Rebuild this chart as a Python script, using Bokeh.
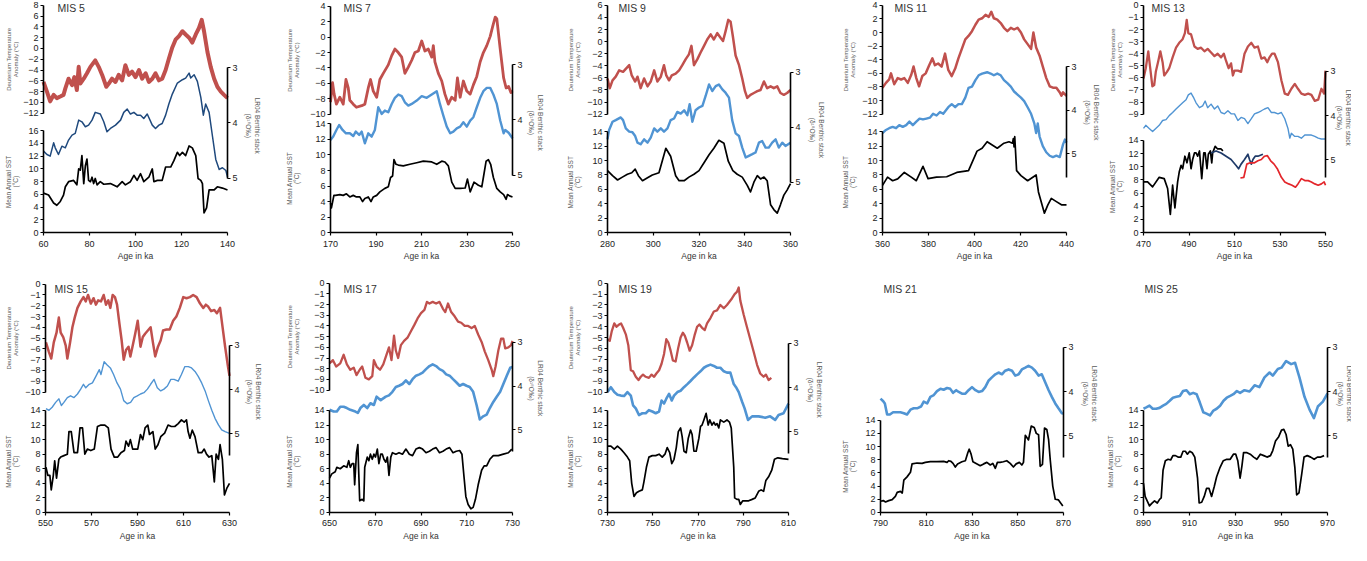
import math
from bokeh.plotting import figure
from bokeh.models import Range1d, LinearAxis, FixedTicker, Label
from bokeh.layouts import row, column
from bokeh.embed import file_html
from bokeh.resources import INLINE

# ------------------------------------------------------------------ data
# MIS 5
mis5_deut_age = [60.0,61.5,62.9,64.4,65.8,67.3,68.7,69.5,70.9,72.4,73.4,74.5,75.3,76.0,77.5,78.9,80.4,82.5,84.0,85.5,87.3,88.4,89.8,91.3,92.7,94.2,95.6,97.1,98.5,100.0,101.5,102.9,104.4,105.8,107.3,108.7,110.2,111.6,113.1,114.5,116.0,117.5,118.9,120.4,121.8,123.3,124.7,126.2,127.6,128.8,129.8,131.3,132.7,134.2,135.6,137.1,138.5,140.0]
mis5_deut = [-6.2,-8.0,-9.8,-8.6,-9.2,-8.9,-8.6,-7.4,-5.6,-6.8,-5.3,-7.7,-3.4,-6.5,-5.6,-4.6,-3.4,-2.2,-3.4,-4.9,-7.1,-6.5,-5.6,-6.2,-4.9,-5.9,-3.1,-4.9,-4.3,-5.3,-4.0,-5.6,-4.6,-6.2,-5.6,-4.6,-5.9,-5.6,-4.0,-1.9,0.2,1.7,2.3,3.2,2.6,2.0,1.1,2.6,3.8,5.3,3.2,-0.7,-3.4,-5.6,-7.1,-8.0,-8.6,-9.2]
mis5_ben_age = [60.0,61.5,62.9,64.4,65.1,66.5,68.0,69.5,70.9,72.4,73.8,75.3,76.7,78.2,79.6,81.1,82.5,84.7,86.2,87.6,89.1,91.3,93.5,94.9,96.4,97.8,99.3,100.7,102.2,103.6,105.1,107.3,108.7,110.2,111.6,113.1,114.5,116.0,118.2,120.4,121.8,123.3,124.0,125.5,126.9,128.4,129.5,130.5,132.0,133.5,134.9,136.4,137.8,139.3,140.0]
mis5_ben = [4.51,4.57,4.60,4.36,4.45,4.57,4.42,4.45,4.31,4.22,4.19,3.95,3.98,4.07,4.04,3.95,3.81,3.84,3.98,4.16,4.10,4.04,3.95,3.81,3.75,3.84,3.81,3.86,3.86,3.92,3.84,4.04,4.10,4.04,4.01,3.86,3.66,3.48,3.28,3.22,3.19,3.10,3.19,3.13,3.25,3.54,3.86,3.66,3.81,4.25,4.66,4.84,4.81,4.86,4.98]
mis5_sst_age = [60.0,62.2,64.4,65.8,67.3,68.7,69.5,70.9,73.1,74.5,75.3,76.0,76.7,77.5,78.2,78.9,79.6,80.4,81.1,81.8,82.5,83.3,84.7,86.2,89.1,92.0,94.2,95.6,97.8,99.3,100.7,102.2,103.6,105.8,107.3,108.0,109.5,111.6,113.1,115.3,116.7,118.2,119.2,120.4,121.8,123.3,124.7,126.2,127.2,128.4,129.1,129.8,130.9,132.0,134.2,135.6,137.8,140.0]
mis5_sst = [6.2,5.9,4.65,4.3,4.9,5.9,7.2,8.0,8.2,7.5,10.0,9.8,12.1,7.7,10.5,11.55,8.2,8.0,8.7,7.7,8.5,7.5,8.0,7.6,7.7,7.2,8.0,7.5,8.0,9.0,8.2,9.25,8.0,8.7,10.0,8.0,8.2,8.2,10.3,10.3,11.3,12.6,12.1,12.6,12.1,13.6,13.3,12.1,8.5,8.2,7.7,3.1,3.9,6.7,6.7,7.2,7.0,6.7]

# MIS 7
mis7_deut_age = [170.0,170.9,171.6,172.6,174.1,175.6,176.8,177.8,178.5,180.0,181.4,183.7,185.1,186.6,187.6,188.8,190.3,191.7,193.2,195.4,196.9,198.3,199.8,201.3,202.7,204.2,205.7,207.1,208.6,210.1,211.5,213.0,214.5,215.2,215.9,217.4,218.9,220.3,221.8,223.3,224.8,225.8,227.0,228.4,229.9,231.4,232.8,234.3,235.8,237.2,238.7,240.2,241.3,242.4,243.1,244.6,246.1,247.2,248.3,249.3,250.0]
mis7_deut = [-8.45,-5.9,-7.4,-8.7,-7.8,-8.7,-5.5,-6.6,-8.2,-8.7,-9.1,-8.9,-8.7,-6.6,-5.5,-7.0,-7.8,-5.5,-4.7,-3.6,-2.4,-1.55,-2.0,-2.6,-4.7,-3.9,-3.0,-2.0,-1.8,-0.5,-1.8,-1.55,-2.6,-1.1,-3.2,-4.7,-5.7,-7.4,-8.7,-7.8,-8.2,-5.3,-7.8,-5.7,-7.0,-7.4,-6.2,-5.1,-3.2,-2.0,-1.1,0.1,1.4,2.6,2.4,-1.55,-5.3,-6.6,-6.4,-7.2,-7.0]
mis7_ben_age = [170.0,171.2,172.6,173.8,175.3,176.8,178.5,180.0,181.1,182.6,183.7,185.1,186.6,188.1,189.5,191.0,192.5,193.9,195.4,196.9,198.3,199.8,201.3,202.7,204.2,205.7,207.9,210.1,212.3,214.5,216.7,218.1,219.6,221.1,222.6,224.0,225.5,227.0,228.4,229.9,231.4,232.8,234.3,235.8,237.2,238.7,240.2,241.6,243.1,244.6,246.1,246.8,248.3,250.0]
mis7_ben = [4.36,4.30,4.18,4.09,4.18,4.24,4.24,4.29,4.21,4.27,4.21,4.42,4.24,4.30,4.18,3.77,3.89,3.83,3.86,3.71,3.60,3.54,3.57,3.68,3.74,3.71,3.65,3.57,3.60,3.54,3.48,3.71,3.92,4.12,4.24,4.21,4.15,4.12,4.04,4.12,4.01,3.95,3.77,3.60,3.48,3.42,3.42,3.54,3.71,4.01,4.24,4.18,4.23,4.33]
mis7_sst_age = [170.0,170.4,171.5,172.2,174.1,175.6,177.0,178.5,180.0,181.4,182.9,184.1,185.1,186.6,187.8,188.8,190.3,191.7,193.9,195.4,196.4,197.3,197.9,198.8,199.8,202.0,204.9,207.9,210.8,214.5,216.7,218.9,220.3,221.8,223.3,224.8,227.0,229.2,230.2,231.4,233.1,235.0,236.5,237.2,238.4,239.4,240.4,241.6,243.1,244.6,246.1,247.2,247.8,249.0,250.0]
mis7_sst = [3.8,3.2,4.8,4.8,4.9,4.8,5.0,4.6,4.8,4.6,4.6,4.0,4.4,4.6,4.0,4.6,4.8,5.25,5.7,5.9,7.1,7.3,9.4,8.8,8.7,8.6,8.8,9.0,9.2,9.1,8.8,9.2,9.1,8.6,6.5,5.7,5.7,5.75,6.9,5.25,6.5,6.1,5.9,7.1,9.2,9.4,8.8,7.1,5.7,5.25,4.9,4.3,4.9,4.7,4.6]

# MIS 9
mis9_deut_age = [280.0,281.0,282.2,283.6,285.1,286.8,288.0,289.5,290.6,292.1,293.1,294.5,296.0,297.5,298.9,300.4,301.8,303.3,304.7,305.7,306.9,308.1,309.8,311.3,312.7,314.2,315.6,316.7,317.8,319.3,320.7,322.2,323.6,325.1,326.5,328.0,329.5,330.5,331.6,332.8,333.8,334.8,336.0,337.5,338.9,340.1,341.1,342.5,344.0,345.5,346.9,348.4,349.8,351.3,352.7,354.2,355.6,357.1,358.5,360.0]
mis9_deut = [-6.1,-7.7,-6.4,-5.8,-4.75,-5.0,-4.5,-3.9,-5.6,-6.6,-5.8,-7.7,-6.1,-7.4,-6.6,-4.75,-6.6,-5.8,-3.9,-5.6,-6.4,-5.6,-5.3,-4.75,-3.9,-2.9,-2.1,-0.7,-3.9,-2.9,-1.8,-0.7,0.35,1.2,0.35,1.4,0.6,0.1,1.7,3.6,3.3,0.9,-2.3,-3.9,-6.1,-8.2,-9.3,-8.8,-8.5,-8.2,-8.0,-6.6,-7.7,-7.4,-7.7,-7.4,-8.5,-8.8,-8.5,-8.0]
mis9_ben_age = [280.0,280.7,282.2,283.6,285.8,286.8,288.0,289.5,290.9,292.1,293.1,294.5,296.0,297.5,298.9,300.4,301.8,303.3,304.7,306.2,307.6,309.1,310.5,312.0,313.5,314.9,315.9,317.1,318.5,320.0,321.5,322.9,324.4,325.8,327.3,328.7,330.2,331.6,333.1,334.5,336.0,337.5,338.9,340.4,341.8,343.3,344.7,346.2,347.6,349.1,350.5,352.0,353.5,354.9,356.4,357.8,360.0]
mis9_ben = [4.22,4.05,3.90,3.87,3.82,3.87,4.02,4.08,4.09,4.16,4.28,4.31,4.22,4.28,4.19,4.02,4.08,4.02,4.08,4.02,3.87,3.84,3.72,3.75,3.69,3.78,3.58,3.90,3.69,3.64,3.61,3.43,3.22,3.34,3.25,3.22,3.31,3.37,3.46,3.87,4.11,4.16,4.37,4.55,4.52,4.49,4.46,4.28,4.25,4.37,4.37,4.28,4.22,4.37,4.28,4.34,4.28]
mis9_sst_age = [280.0,282.2,284.4,286.5,288.7,290.6,292.1,293.5,295.3,297.5,299.6,302.5,305.5,307.6,309.8,311.3,313.5,315.6,317.8,320.0,322.2,324.4,326.5,328.7,330.9,332.8,334.8,336.7,338.9,341.1,342.5,344.0,345.5,346.9,348.4,349.8,351.3,352.7,354.2,355.6,357.1,358.5,360.0]
mis9_sst = [8.6,7.9,7.3,7.7,8.1,8.3,8.8,7.9,7.2,7.6,8.0,8.3,11.7,10.6,7.9,7.2,7.2,7.7,8.1,8.6,9.7,10.8,11.7,12.8,12.4,9.9,8.6,8.1,7.7,6.55,5.65,7.0,7.9,7.45,7.7,7.2,3.86,3.2,2.7,3.86,5.2,5.9,6.8]

# MIS 11
mis11_deut_age = [360.0,361.5,362.9,363.7,365.1,366.6,368.1,369.5,371.0,372.5,373.5,374.7,375.9,377.3,378.8,380.3,381.7,382.8,384.2,385.7,387.2,388.6,390.1,391.6,393.0,394.5,396.0,397.4,398.9,400.4,401.8,403.3,404.8,406.2,407.3,408.4,409.9,411.4,412.8,414.3,415.8,417.2,418.7,420.2,421.6,423.1,424.6,425.6,426.8,428.3,429.7,431.2,432.7,434.1,435.6,437.1,437.8,438.5,440.0]
mis11_deut = [-8.1,-7.4,-6.9,-6.0,-7.6,-6.7,-6.9,-6.7,-7.4,-6.2,-5.0,-6.7,-7.9,-6.4,-6.0,-4.8,-3.8,-4.8,-4.55,-5.0,-3.1,-5.5,-6.4,-5.3,-3.8,-2.4,-1.0,-0.5,0.2,1.15,1.9,2.1,2.6,2.3,3.05,2.1,1.9,1.4,0.7,0.2,0.7,0.45,0.7,0.0,-1.0,-1.7,-2.4,0.0,-2.2,-3.4,-5.0,-6.7,-7.9,-8.1,-8.1,-8.8,-9.3,-8.8,-9.3]
mis11_ben_age = [360.0,361.5,362.9,364.4,365.9,367.3,368.8,370.3,371.7,373.2,374.7,376.1,377.6,379.1,380.6,382.0,383.5,385.0,386.4,388.6,390.1,391.6,393.0,394.5,396.0,397.4,398.9,400.4,401.8,403.3,405.5,407.0,408.4,409.9,411.4,412.8,414.3,415.8,417.2,418.7,420.2,421.6,423.1,424.6,426.0,426.8,427.5,428.3,429.7,431.2,432.7,434.1,435.6,437.1,438.5,439.3,440.0]
mis11_ben = [4.52,4.45,4.41,4.38,4.41,4.34,4.38,4.34,4.26,4.34,4.26,4.19,4.21,4.19,4.17,4.08,4.12,4.04,4.08,3.93,3.86,3.93,3.86,3.86,3.71,3.49,3.46,3.31,3.20,3.16,3.13,3.16,3.20,3.16,3.20,3.31,3.38,3.46,3.57,3.64,3.71,3.79,3.93,4.08,4.30,4.52,4.30,4.60,4.82,4.96,5.04,5.07,5.04,5.07,4.78,4.67,4.74]
mis11_sst_age = [360.0,362.2,364.4,366.6,369.5,372.5,374.7,377.6,379.8,383.5,387.9,392.3,397.4,401.1,403.3,405.5,409.9,412.8,415.0,416.5,416.9,417.2,417.5,418.3,420.2,423.1,426.8,427.8,430.4,431.9,433.4,435.6,437.8,440.0]
mis11_sst = [6.55,7.7,7.2,7.45,8.35,7.7,7.2,9.2,7.5,7.7,7.75,8.35,8.6,11.3,11.7,12.6,11.7,12.4,12.6,12.4,13.05,11.9,13.3,8.6,7.9,7.2,8.0,5.65,2.7,3.86,4.75,4.3,3.86,3.86]

# MIS 13
mis13_deut_age = [470.0,471.0,472.1,472.9,473.9,474.7,475.4,476.5,477.4,478.4,479.1,480.3,481.3,482.8,484.3,485.7,487.2,488.2,489.0,489.7,490.9,492.4,493.8,495.3,496.8,498.2,499.7,501.2,502.6,504.1,505.3,506.3,507.4,508.5,509.3,510.0,511.5,512.9,514.4,515.9,517.4,518.8,520.3,521.8,523.2,524.4,525.4,526.5,527.6,529.1,530.6,532.1,533.5,535.0,536.5,537.9,539.4,540.9,542.4,543.8,545.3,546.8,548.2,549.4,550.0]
mis13_deut = [-6.05,-5.2,-3.8,-5.1,-6.7,-6.6,-5.5,-4.6,-3.8,-4.7,-5.8,-5.5,-5.2,-4.3,-3.5,-3.1,-2.8,-2.3,-1.2,-2.3,-2.4,-3.4,-3.6,-3.5,-3.8,-3.6,-3.9,-4.2,-4.0,-4.3,-4.0,-4.6,-5.2,-4.8,-5.8,-5.4,-5.4,-5.5,-4.0,-3.4,-3.1,-3.5,-3.4,-4.4,-4.3,-4.7,-4.3,-4.0,-4.0,-4.7,-6.2,-7.3,-7.4,-6.9,-6.5,-6.9,-7.3,-7.4,-7.3,-7.4,-7.9,-7.8,-6.9,-7.3,-5.4]
mis13_ben_age = [470.0,471.0,472.5,474.0,475.4,476.9,478.4,479.9,481.3,482.8,484.3,485.7,487.2,488.7,489.7,490.9,492.1,493.1,494.6,496.0,497.1,498.2,499.7,501.2,502.6,504.1,505.6,507.1,508.5,510.0,511.5,512.9,514.4,515.9,517.4,518.8,520.3,521.8,523.2,524.7,526.2,527.6,529.1,530.6,532.1,533.5,534.3,535.0,536.5,537.9,539.4,540.9,542.4,543.8,545.3,546.8,548.2,550.0]
mis13_ben = [4.29,4.22,4.29,4.36,4.29,4.22,4.11,4.09,4.0,3.93,3.85,3.78,3.71,3.64,3.53,3.49,3.60,3.71,3.82,3.78,3.67,3.82,3.74,3.85,3.78,3.93,3.96,3.89,3.96,3.96,4.11,4.04,4.07,4.18,4.07,3.96,3.93,3.89,3.85,3.82,3.93,3.93,3.96,3.93,4.07,4.29,4.51,4.40,4.47,4.47,4.51,4.44,4.44,4.44,4.47,4.51,4.53,4.53]
mis13_sst_a_age = [470.0,471.8,474.0,476.9,479.1,480.6,481.8,482.8,483.8,485.0,485.7,486.5,487.2,488.2,489.1,490.1,490.9,491.6,492.4,493.1,493.8,494.6,495.6,496.5,497.1,497.9,498.5,499.4,500.0,500.4,501.5,502.6,504.1,504.9]
mis13_sst_a = [7.7,7.7,6.95,8.4,8.2,6.7,2.76,7.2,3.75,7.7,9.2,10.2,9.7,11.6,10.6,12.1,9.7,11.1,12.1,12.1,11.6,12.4,8.2,12.1,12.1,9.7,11.9,12.4,10.6,12.1,13.1,12.7,12.7,12.4]
mis13_sst_b_age = [499.7,501.9,504.1,506.3,508.5,510.7,511.8,512.9,514.4,515.9,516.6,517.4,518.1,519.1,520.3,522.5]
mis13_sst_b = [12.1,12.4,12.1,11.6,11.1,10.2,9.7,10.4,11.1,11.9,11.1,10.4,11.1,11.6,11.6,11.9]
mis13_sst_c_age = [512.6,514.1,515.4,516.9,518.8,520.3,521.8,523.2,524.4,525.9,527.4,528.8,530.6,532.1,533.8,535.3,536.8,537.9,539.4,540.9,542.4,543.8,545.3,546.8,548.2,549.4,550.0]
mis13_sst_c = [8.3,8.4,10.4,10.6,10.6,10.9,11.1,11.6,11.7,10.9,10.4,9.7,8.4,7.7,7.4,7.2,6.9,7.4,8.2,7.9,7.9,7.7,7.4,7.2,7.4,7.7,7.2]

# MIS 15
mis15_deut_age = [550.2,551.5,552.5,553.6,554.8,555.8,556.6,557.7,558.8,559.5,560.7,561.7,562.7,563.9,565.3,566.5,567.5,568.5,569.7,570.9,571.9,572.9,574.1,575.3,576.3,577.3,578.2,579.2,580.2,581.1,582.1,583.1,584.0,585.0,586.1,586.9,587.9,589.0,590.1,591.3,592.3,593.3,594.5,595.7,596.7,597.7,598.9,600.1,601.1,602.6,604.0,605.5,606.9,608.4,609.9,611.3,612.8,614.2,615.7,617.2,618.6,619.7,620.8,622.0,623.4,624.5,625.9,627.0,628.1,629.3,630.0]
mis15_deut = [-5.4,-6.3,-6.9,-5.4,-4.5,-3.1,-4.5,-4.9,-5.7,-6.9,-5.4,-4.0,-3.1,-2.2,-1.6,-1.2,-1.6,-1.0,-1.8,-1.3,-1.9,-1.5,-1.6,-1.0,-1.9,-1.5,-2.2,-1.0,-1.2,-1.9,-3.6,-5.2,-7.0,-6.1,-5.8,-6.7,-5.7,-4.6,-3.4,-5.8,-4.9,-4.6,-4.3,-4.0,-5.4,-6.7,-5.8,-5.2,-4.3,-4.2,-4.2,-3.4,-3.0,-2.2,-1.2,-1.3,-1.2,-1.0,-1.2,-1.8,-2.2,-1.9,-2.1,-2.5,-2.4,-2.7,-2.2,-4.0,-5.8,-7.6,-8.5]
mis15_ben_age = [550.2,551.5,552.9,554.4,555.8,556.9,558.0,559.5,560.9,562.4,563.9,565.3,566.5,567.5,569.0,570.4,571.9,573.4,574.1,575.5,576.7,578.2,579.6,581.1,582.6,584.0,585.5,587.0,588.4,589.9,591.3,592.8,594.3,595.7,597.2,598.6,600.1,601.5,603.0,604.5,605.9,607.7,609.1,610.6,612.1,613.5,615.0,616.4,617.9,619.4,620.8,622.3,623.7,625.2,626.6,628.1,630.0]
mis15_ben = [4.43,4.47,4.40,4.29,4.21,4.36,4.29,4.18,4.14,4.18,4.10,3.99,3.88,3.96,3.88,3.85,3.70,3.55,3.66,3.37,3.44,3.51,3.66,3.85,3.99,4.25,4.32,4.29,4.18,4.14,4.10,4.07,3.99,3.88,3.77,3.96,4.03,3.99,3.92,3.77,3.77,3.81,3.66,3.48,3.48,3.51,3.59,3.70,3.85,4.03,4.25,4.47,4.65,4.80,4.91,4.95,4.99]
mis15_sst_age = [550.2,551.0,551.9,552.5,553.4,554.0,554.8,555.8,556.6,558.0,559.5,560.2,561.2,562.4,563.9,565.0,566.1,567.1,568.2,569.7,571.2,572.6,574.1,575.8,577.3,578.5,579.9,581.4,582.8,584.3,585.0,586.1,586.9,587.9,590.1,591.3,592.3,593.3,594.5,595.2,596.7,597.7,598.9,600.1,601.8,603.3,604.7,606.2,607.7,609.1,610.3,611.3,612.0,612.8,613.8,615.0,616.4,617.9,619.0,620.0,621.1,622.3,623.4,624.2,625.2,625.9,626.9,627.8,628.8,630.0]
mis15_sst = [6.2,5.1,5.1,3.1,5.1,7.1,4.7,7.3,7.6,7.8,8.0,11.1,11.1,8.2,8.2,11.6,11.6,8.0,8.7,8.5,8.7,11.8,12.0,12.0,11.6,8.7,7.6,7.6,8.2,8.5,9.8,9.1,10.0,8.7,8.7,10.7,10.0,11.6,12.0,10.7,11.1,8.7,9.3,10.4,10.9,12.0,11.8,11.8,12.2,12.7,12.4,12.7,11.1,10.2,11.3,10.4,8.2,8.2,8.7,8.0,7.6,7.8,4.2,8.0,7.3,9.3,7.3,2.4,3.3,4.0]

# MIS 17
mis17_deut_age = [650.0,651.5,652.9,654.7,656.2,657.6,659.1,660.6,661.8,663.2,664.3,665.7,667.2,668.7,669.4,670.6,672.1,673.5,674.6,676.0,677.1,678.2,679.0,680.0,681.2,682.6,684.1,685.6,687.1,688.5,690.0,691.5,692.6,693.7,695.1,696.6,698.1,699.6,700.6,701.8,703.2,704.7,706.2,707.6,709.1,710.6,712.1,713.5,715.0,716.5,717.9,719.4,720.9,721.6,722.6,723.8,725.0,726.0,726.8,728.2,729.4,730.0]
mis17_deut = [-7.5,-7.2,-7.8,-7.5,-6.7,-7.6,-8.1,-7.9,-8.6,-8.1,-7.8,-8.85,-9.0,-8.7,-7.2,-7.8,-8.1,-7.6,-6.9,-6.0,-7.2,-4.9,-6.3,-7.0,-5.8,-5.4,-5.1,-4.5,-3.9,-3.3,-2.8,-2.5,-1.75,-1.9,-1.75,-1.9,-1.75,-2.4,-2.7,-1.9,-2.7,-3.1,-3.6,-3.7,-4.0,-4.0,-4.2,-4.0,-4.8,-5.5,-6.4,-7.2,-8.1,-8.7,-7.8,-6.3,-5.2,-5.2,-6.1,-6.0,-5.8,-5.4]
mis17_ben_age = [650.0,651.8,653.2,654.7,656.2,657.6,659.1,661.3,662.4,663.5,665.0,666.5,667.9,669.4,670.6,672.4,674.6,676.0,677.5,679.0,680.4,681.9,683.4,684.9,686.3,687.8,689.3,690.7,692.2,693.7,695.1,696.6,698.1,699.6,701.0,702.5,704.0,705.4,706.9,708.4,709.9,711.3,712.8,714.3,715.7,717.2,718.7,720.1,721.6,723.1,724.6,726.0,727.5,729.0,730.0]
mis17_ben = [4.54,4.58,4.58,4.47,4.47,4.50,4.54,4.58,4.61,4.50,4.43,4.50,4.39,4.43,4.24,4.32,4.24,4.21,4.13,4.02,3.99,3.95,3.87,3.95,3.84,3.76,3.73,3.69,3.61,3.54,3.50,3.54,3.61,3.65,3.73,3.76,3.84,3.91,3.99,3.95,3.99,4.02,4.13,4.43,4.76,4.69,4.65,4.50,4.36,4.24,4.13,3.95,3.76,3.58,3.56]
mis17_sst_age = [650.0,651.0,652.5,653.2,654.7,656.2,657.6,658.4,659.1,659.9,660.6,661.0,661.8,662.4,662.8,663.2,664.3,665.0,665.4,666.5,667.2,667.9,668.7,669.4,670.1,670.9,671.6,672.4,673.1,673.8,674.6,675.3,676.0,676.8,677.5,679.0,680.4,681.9,683.4,684.9,686.3,687.8,689.3,690.7,692.2,693.7,695.1,696.6,698.1,699.6,701.0,702.5,704.0,705.4,706.9,707.9,708.8,709.6,710.6,711.8,712.8,713.8,715.0,716.5,717.6,718.7,720.1,721.6,723.8,726.0,728.2,729.7]
mis17_sst = [4.7,5.3,5.6,6.2,6.0,6.4,6.2,7.1,6.2,6.7,6.7,3.8,8.2,9.3,5.3,1.6,1.8,1.6,6.2,7.6,7.1,8.0,7.3,8.0,7.6,8.7,6.7,8.0,8.0,7.3,6.9,7.6,5.1,7.6,8.2,8.0,8.2,8.0,8.7,8.0,7.8,8.7,8.9,8.7,8.2,8.4,8.7,8.9,8.2,8.4,8.7,8.9,8.2,8.4,8.5,8.0,4.9,2.2,1.1,0.5,0.7,1.8,3.8,5.8,6.4,6.4,7.3,7.8,7.8,8.0,8.2,8.7]

# MIS 19
mis19_deut_age = [730.0,731.0,731.9,733.0,734.0,735.1,736.0,736.9,738.1,739.2,740.3,741.3,742.5,743.7,744.7,745.7,746.9,748.3,749.5,750.6,751.6,752.8,753.9,755.0,756.0,756.9,757.9,758.9,760.1,761.3,762.3,763.3,764.2,765.2,766.3,767.4,768.6,769.6,770.6,771.8,773.0,774.0,775.5,777.0,778.4,779.9,781.4,782.8,783.9,785.0,786.2,787.2,788.0,788.7,790.2,791.6,793.1,794.6,796.1,797.5,799.0,800.0,801.2,802.4]
mis19_deut = [-5.15,-5.3,-4.4,-3.7,-4.0,-3.8,-3.7,-4.1,-4.7,-5.7,-8.0,-8.1,-8.6,-8.9,-8.6,-8.4,-8.6,-8.7,-8.4,-8.6,-8.3,-8.0,-7.4,-6.5,-5.15,-5.45,-6.2,-7.1,-7.2,-5.9,-5.0,-4.55,-4.85,-5.45,-6.2,-5.7,-4.7,-4.0,-3.8,-4.1,-4.3,-3.7,-3.2,-2.6,-2.5,-2.0,-2.3,-2.0,-1.7,-1.4,-1.0,-0.8,-0.4,-1.6,-2.9,-4.0,-5.15,-6.3,-7.5,-8.3,-8.6,-8.4,-8.9,-8.7]
mis19_ben_age = [730.0,731.5,733.0,734.4,735.9,737.3,738.8,740.3,741.3,742.5,743.9,745.4,746.9,748.3,749.8,751.3,752.8,753.9,755.0,756.0,757.2,758.4,759.4,760.9,762.3,763.8,765.3,766.7,768.2,769.6,771.1,772.6,774.0,775.5,777.0,778.4,779.9,781.4,782.8,784.3,785.8,786.8,788.0,789.5,790.6,792.1,793.9,796.8,799.7,801.9,804.1,805.6,807.8,810.0]
mis19_ben = [4.10,3.99,4.10,4.16,4.18,4.19,4.10,4.18,4.40,4.47,4.62,4.58,4.58,4.51,4.54,4.58,4.54,4.29,4.36,4.25,4.14,4.29,4.18,4.10,4.07,3.99,3.92,3.85,3.77,3.70,3.63,3.55,3.51,3.48,3.51,3.55,3.55,3.63,3.66,3.66,3.92,3.99,4.10,4.32,4.47,4.73,4.65,4.65,4.68,4.65,4.73,4.62,4.58,4.36]
mis19_sst_age = [730.0,731.5,733.0,734.4,735.9,737.3,738.8,739.8,740.7,741.7,742.8,743.9,745.4,746.1,747.2,748.3,749.8,751.3,752.8,754.2,755.4,756.4,757.5,758.4,759.4,760.4,761.3,762.3,763.0,763.8,764.8,765.7,766.7,767.4,768.2,769.2,770.4,771.1,771.8,772.6,773.6,774.5,775.2,776.2,777.0,777.7,778.4,779.2,779.9,781.4,782.8,783.9,784.7,785.8,786.2,787.2,788.0,788.7,789.8,790.9,792.4,793.9,795.3,796.8,797.9,799.0,800.0,801.2,802.6,803.8,805.3,807.3,810.0]
mis19_sst = [9.1,9.1,8.7,9.1,8.7,8.2,7.6,7.1,4.0,2.2,2.7,2.9,3.1,4.2,6.2,7.6,7.8,7.8,8.0,7.6,8.0,8.9,8.2,6.7,7.3,8.9,11.1,11.6,10.4,8.4,8.2,10.2,11.3,10.7,8.4,8.4,10.2,11.8,12.0,12.7,13.6,12.0,12.7,12.0,12.4,12.0,12.2,11.6,12.7,12.4,12.7,12.4,11.6,6.2,2.0,1.8,1.8,1.1,1.6,1.6,1.6,1.8,2.0,2.9,3.1,2.9,4.4,4.9,5.8,7.3,7.5,7.4,7.3]

# MIS 21
mis21_ben_age = [790.0,791.2,791.9,792.9,794.1,795.5,797.0,798.7,800.2,801.6,803.1,804.5,806.0,807.7,808.9,810.4,811.8,813.3,814.7,816.2,817.6,819.1,820.5,821.7,823.1,824.2,825.6,827.1,828.5,830.0,831.5,832.9,834.4,835.8,837.3,838.7,840.2,841.6,843.1,844.5,846.0,847.5,848.9,850.4,851.8,853.3,854.7,856.2,857.6,859.1,860.5,862.0,863.5,864.9,866.4,867.8,869.3,870.0]
mis21_ben = [4.16,4.22,4.27,4.52,4.52,4.47,4.47,4.47,4.49,4.52,4.41,4.38,4.38,4.34,4.23,4.27,4.12,4.08,3.99,3.94,3.96,3.92,3.94,4.03,3.97,4.01,4.05,4.05,3.97,3.90,3.97,4.01,3.99,3.90,3.75,3.68,3.61,3.57,3.61,3.53,3.50,3.53,3.64,3.61,3.50,3.46,3.42,3.46,3.53,3.64,3.61,3.79,3.97,4.12,4.27,4.38,4.49,4.50]
mis21_sst_age = [790.0,791.2,792.2,793.6,795.1,796.5,797.3,798.7,799.5,800.2,801.6,803.1,803.8,806.0,808.2,809.6,811.8,814.7,817.6,819.1,819.8,820.8,821.7,822.7,823.7,825.6,827.1,828.2,828.8,829.6,830.4,832.2,833.6,835.1,836.5,838.0,839.1,840.2,841.1,842.3,843.7,845.2,846.7,848.1,849.3,850.7,851.8,852.5,853.3,854.7,855.9,857.2,858.1,859.1,859.8,860.8,861.7,862.7,863.5,864.2,865.3,866.4,867.8,869.7]
mis21_sst = [1.7,1.8,1.6,1.8,1.95,2.45,3.05,3.2,2.95,4.9,5.4,6.1,7.37,7.5,7.45,7.6,7.7,7.7,7.75,7.6,7.85,7.75,7.45,6.9,7.37,7.7,7.85,9.1,9.6,8.85,7.7,7.37,7.1,7.37,7.6,7.2,7.45,6.7,7.6,7.6,7.7,7.85,7.45,6.9,7.37,7.6,7.2,7.6,11.7,11.0,13.1,12.9,12.0,11.8,7.0,7.3,12.8,12.6,11.0,8.0,4.0,2.0,1.9,1.0]

# MIS 25
mis25_ben_age = [890.0,891.2,892.6,894.0,895.5,897.0,898.5,899.9,901.4,902.8,904.3,905.8,907.2,908.7,910.1,911.6,913.1,914.5,916.0,917.4,918.9,920.4,921.8,923.3,924.8,926.2,927.7,929.1,930.6,932.0,933.9,936.1,938.3,940.4,942.6,944.8,946.2,948.4,950.0,952.0,954.2,955.9,957.8,960.0,962.2,964.1,965.8,968.0,970.0]
mis25_ben = [4.39,4.36,4.32,4.39,4.39,4.37,4.32,4.28,4.21,4.14,4.12,4.10,3.99,3.97,4.06,4.03,4.06,4.25,4.47,4.50,4.54,4.43,4.39,4.32,4.21,4.14,4.10,4.06,3.99,4.03,3.97,4.00,3.86,3.90,3.68,3.57,3.64,3.49,3.46,3.31,3.38,3.35,3.68,4.12,4.41,4.60,4.34,4.23,4.04]
mis25_sst_age = [890.0,890.7,891.6,892.6,893.6,894.8,896.0,897.0,897.7,898.5,899.5,900.7,901.8,902.8,903.9,905.0,906.2,907.2,908.2,909.1,910.1,911.2,912.3,913.5,914.2,915.3,916.4,917.4,918.5,919.6,920.8,921.8,923.3,924.7,926.2,927.7,929.1,930.1,931.0,932.0,932.8,933.5,935.0,936.4,937.9,939.3,940.8,942.3,943.7,945.2,946.2,947.4,948.8,950.0,951.0,952.0,952.9,953.9,954.9,955.8,956.6,957.6,958.8,959.8,961.2,962.7,964.2,965.6,967.1,968.5]
mis25_sst = [4.0,2.2,1.6,0.9,1.25,1.6,1.3,1.8,2.0,5.8,7.1,7.3,7.2,7.8,7.8,7.6,7.6,8.4,8.4,8.0,8.4,8.2,7.6,4.7,1.3,1.4,2.2,3.3,3.3,2.2,3.6,4.9,6.2,7.1,7.3,7.3,8.0,8.0,7.1,4.7,6.4,8.2,8.2,8.0,7.6,7.3,8.0,7.8,7.6,7.8,8.5,9.8,10.4,11.3,11.4,10.7,9.1,9.3,8.7,6.2,2.4,2.7,5.3,7.6,7.8,7.6,7.3,7.6,7.6,7.8]

# tick labels
deut_ticks_5 = [-12, -10, -8, -6, -4, -2, 0, 2, 4, 6, 8]
deut_ticks_7 = [-10, -8, -6, -4, -2, 0, 2, 4]
deut_ticks_9 = [-12, -10, -8, -6, -4, -2, 0, 2, 4, 6]
deut_ticks_11 = [-12, -10, -8, -6, -4, -2, 0, 2, 4]
deut_ticks_13 = [-9, -8, -7, -6, -5, -4, -3, -2, -1, 0]
deut_ticks_15 = [-10, -9, -8, -7, -6, -5, -4, -3, -2, -1, 0]
sst_ticks_16 = [0, 2, 4, 6, 8, 10, 12, 14, 16]
sst_ticks_14 = [0, 2, 4, 6, 8, 10, 12, 14]
ben_ticks = [3, 4, 5]

# ------------------------------------------------------------------ style / layout
FONT = "Liberation Sans"
RED = "#C0504D"
BLUE = "#5094D3"
NAVY = "#1F497D"
SST_NAVY = "#1F3A68"
SST_RED = "#E3262B"

S = 545.0 / 561.0          # vertical compression of the reference layout
ROWS = {0: dict(P0=0, H=269, B=239.0, title=8.0, agelab=263.0),
        1: dict(P0=269, H=276, B=527.0, title=297.0, agelab=551.0)}

def u_of(yr, R):
    py = S * yr
    return (R["P0"] + R["H"] - py) / R["H"]

def rng(v1, y1, v2, y2, R):
    u1, u2 = u_of(y1, R), u_of(y2, R)
    k = (v2 - v1) / (u2 - u1)
    return Range1d(start=v1 - u1 * k, end=v1 + (1 - u1) * k)

def pair(a, b):
    n = min(len(a), len(b))
    return a[:n], b[:n]

def style_axis(ax, size="9px"):
    ax.axis_line_color = "black"
    ax.axis_line_width = 1.6
    ax.major_tick_line_color = "black"
    ax.major_tick_line_width = 1.2
    ax.major_tick_out = 3
    ax.major_tick_in = 0
    ax.minor_tick_out = 0
    ax.minor_tick_in = 0
    ax.major_label_text_font = FONT
    ax.major_label_text_font_size = size
    ax.major_label_text_color = "#222222"
    ax.major_label_standoff = 2

def lab(p, x, y, rname, text, xo, angle, size, color="#595959", align="center"):
    p.add_layout(Label(x=x, y=y, y_range_name=rname, x_offset=xo, text=text,
                       angle=angle, text_align=align, text_baseline="middle",
                       text_font=FONT, text_font_size=size, text_color=color))

PANELS = [
    dict(name="MIS 5", row=0, x0=60, x1=140, CL=0, W=280, X0=43, X1=227,
         deut=(mis5_deut_age, mis5_deut), deut_axis=(8, 5, -12, 116), deut_ticks=deut_ticks_5, deut_w=4.0,
         ben=(mis5_ben_age, mis5_ben), ben_axis=(69, 183), ben_end=5.0, ben_color=NAVY, ben_w=1.5,
         sst=[(mis5_sst_age, mis5_sst, "black")], sst_axis=(16, 134), sst_ticks=sst_ticks_16,
         lab_l=-35, lab_r=21, title_dx=14),
    dict(name="MIS 7", row=0, x0=170, x1=250, CL=280, W=274, X0=330, X1=512,
         deut=(mis7_deut_age, mis7_deut), deut_axis=(4, 6, -10, 117), deut_ticks=deut_ticks_7, deut_w=2.8,
         ben=(mis7_ben_age, mis7_ben), ben_axis=(66, 180), ben_end=5.0, ben_color=BLUE, ben_w=2.4,
         sst=[(mis7_sst_age, mis7_sst, "black")], sst_axis=(14, 127), sst_ticks=sst_ticks_14,
         lab_l=-41, lab_r=19, title_dx=13),
    dict(name="MIS 9", row=0, x0=280, x1=360, CL=554, W=276, X0=607, X1=790,
         deut=(mis9_deut_age, mis9_deut), deut_axis=(6, 5, -12, 117), deut_ticks=deut_ticks_9, deut_w=2.5,
         ben=(mis9_ben_age, mis9_ben), ben_axis=(74, 187), ben_end=5.0, ben_color=BLUE, ben_w=2.4,
         sst=[(mis9_sst_age, mis9_sst, "black")], sst_axis=(14, 135), sst_ticks=sst_ticks_14,
         lab_l=-37, lab_r=22, title_dx=11),
    dict(name="MIS 11", row=0, x0=360, x1=440, CL=830, W=270, X0=882, X1=1066,
         deut=(mis11_deut_age, mis11_deut), deut_axis=(4, 5, -12, 117), deut_ticks=deut_ticks_11, deut_w=2.5,
         ben=(mis11_ben_age, mis11_ben), ben_axis=(68, 158), ben_end=5.53, ben_color=BLUE, ben_w=2.4,
         sst=[(mis11_sst_age, mis11_sst, "black")], sst_axis=(14, 135), sst_ticks=sst_ticks_14,
         lab_l=-37, lab_r=21, title_dx=12),
    dict(name="MIS 13", row=0, x0=470, x1=550, CL=1100, W=251, X0=1143, X1=1325,
         deut=(mis13_deut_age, mis13_deut), deut_axis=(0, 5, -9, 117), deut_ticks=deut_ticks_13, deut_w=2.3,
         ben=(mis13_ben_age, mis13_ben), ben_axis=(73, 164), ben_end=5.4, ben_color=BLUE, ben_w=1.4,
         sst=[(mis13_sst_a_age, mis13_sst_a, "black"), (mis13_sst_b_age, mis13_sst_b, SST_NAVY),
              (mis13_sst_c_age, mis13_sst_c, SST_RED)], sst_axis=(14, 144), sst_ticks=sst_ticks_14,
         lab_l=-31, lab_r=14, title_dx=8),
    dict(name="MIS 15", row=1, x0=550, x1=630, CL=0, W=280, X0=45, X1=229,
         deut=(mis15_deut_age, mis15_deut), deut_axis=(0, 292, -10, 403), deut_ticks=deut_ticks_15, deut_w=2.5,
         ben=(mis15_ben_age, mis15_ben), ben_axis=(355, 446), ben_end=5.5, ben_color=BLUE, ben_w=1.4,
         sst=[(mis15_sst_age, mis15_sst, "black")], sst_axis=(14, 422), sst_ticks=sst_ticks_14,
         lab_l=-37, lab_r=20, title_dx=9),
    dict(name="MIS 17", row=1, x0=650, x1=730, CL=280, W=274, X0=329, X1=512,
         deut=(mis17_deut_age, mis17_deut), deut_axis=(0, 291, -10, 401), deut_ticks=deut_ticks_15, deut_w=2.3,
         ben=(mis17_ben_age, mis17_ben), ben_axis=(352, 442), ben_end=5.5, ben_color=BLUE, ben_w=2.6,
         sst=[(mis17_sst_age, mis17_sst, "black")], sst_axis=(14, 422), sst_ticks=sst_ticks_14,
         lab_l=-40, lab_r=19, title_dx=14),
    dict(name="MIS 19", row=1, x0=730, x1=810, CL=554, W=276, X0=607, X1=788,
         deut=(mis19_deut_age, mis19_deut), deut_axis=(0, 291, -10, 403), deut_ticks=deut_ticks_15, deut_w=2.3,
         ben=(mis19_ben_age, mis19_ben), ben_axis=(353, 444), ben_end=5.5, ben_color=BLUE, ben_w=2.6,
         sst=[(mis19_sst_age, mis19_sst, "black")], sst_axis=(14, 422), sst_ticks=sst_ticks_14,
         lab_l=-37, lab_r=22, title_dx=11),
    dict(name="MIS 21", row=1, x0=790, x1=870, CL=830, W=270, X0=880, X1=1063,
         deut=None, ben=(mis21_ben_age, mis21_ben), ben_axis=(357, 448), ben_end=5.5, ben_color=BLUE, ben_w=2.6,
         sst=[(mis21_sst_age, mis21_sst, "black")], sst_axis=(14, 432), sst_ticks=sst_ticks_14,
         lab_l=-35, lab_r=22, title_dx=3),
    dict(name="MIS 25", row=1, x0=890, x1=970, CL=1100, W=251, X0=1143, X1=1327,
         deut=None, ben=(mis25_ben_age, mis25_ben), ben_axis=(357, 448), ben_end=5.5, ben_color=BLUE, ben_w=2.6,
         sst=[(mis25_sst_age, mis25_sst, "black")], sst_axis=(14, 422), sst_ticks=sst_ticks_14,
         lab_l=-33, lab_r=13, title_dx=1),
]

def build(P):
    R = ROWS[P["row"]]
    x0, x1 = P["x0"], P["x1"]
    kx = (x1 - x0) / float(P["X1"] - P["X0"])
    xr = Range1d(start=x0 - (P["X0"] - P["CL"]) * kx, end=x1 + (P["CL"] + P["W"] - P["X1"]) * kx)
    smax, sy = P["sst_axis"]
    sst_r = rng(smax, sy, 0, R["B"], R)
    p = figure(width=P["W"], height=R["H"], x_range=xr, y_range=sst_r,
               x_axis_location=None, y_axis_location=None, toolbar_location=None,
               output_backend="svg", min_border=0)
    p.min_border_left = 0
    p.min_border_right = 0
    p.min_border_top = 0
    p.min_border_bottom = 0
    p.outline_line_color = None
    p.grid.visible = False
    p.background_fill_color = "white"
    p.border_fill_color = "white"

    ranges = {"canvas": Range1d(0, 1)}
    y3, y5 = P["ben_axis"]
    ranges["ben"] = rng(3, y3, 5, y5, R)
    if P["deut"] is not None:
        vt, yt, vb, yb = P["deut_axis"]
        ranges["deut"] = rng(vt, yt, vb, yb, R)
    p.extra_y_ranges = ranges

    # x axis at SST = 0
    xa = LinearAxis(fixed_location=0, bounds=(x0, x1),
                    ticker=FixedTicker(ticks=list(range(x0, x1 + 1, 20))))
    style_axis(xa)
    xa.major_label_standoff = 5
    p.add_layout(xa, "below")

    # y axes
    if P["deut"] is not None:
        ad = LinearAxis(y_range_name="deut", fixed_location=x0, bounds=(vb, vt),
                        ticker=FixedTicker(ticks=P["deut_ticks"]))
        style_axis(ad)
        p.add_layout(ad, "left")
    a_s = LinearAxis(fixed_location=x0, bounds=(0, smax), ticker=FixedTicker(ticks=P["sst_ticks"]))
    style_axis(a_s)
    p.add_layout(a_s, "left")
    ab = LinearAxis(y_range_name="ben", fixed_location=x1, bounds=(3, P["ben_end"]),
                    ticker=FixedTicker(ticks=ben_ticks))
    style_axis(ab)
    p.add_layout(ab, "right")

    # series
    for ages, vals, col in P["sst"]:
        a, v = pair(ages, vals)
        p.line(a, v, line_color=col, line_width=1.7, line_join="round")
    a, v = pair(*P["ben"])
    p.line(a, v, y_range_name="ben", line_color=P["ben_color"], line_width=P["ben_w"], line_join="round")
    if P["deut"] is not None:
        a, v = pair(*P["deut"])
        p.line(a, v, y_range_name="deut", line_color=RED, line_width=P["deut_w"], line_join="round")

    # axis titles
    half = math.pi / 2
    if P["deut"] is not None:
        dmid = (vt + vb) / 2.0
        lab(p, x0, dmid, "deut", "Deuterium Temperature", P["lab_l"], half, "6px")
        lab(p, x0, dmid, "deut", "Anomaly (\u00b0C)", P["lab_l"] + 7, half, "6px")
    lab(p, x0, smax / 2.0, "default", "Mean Annual SST", P["lab_l"], half, "6.5px")
    lab(p, x0, smax / 2.0, "default", "(\u00b0C)", P["lab_l"] + 7, half, "6.5px")
    lab(p, x1, 4.05, "ben", "LR04 Benthic stack", P["lab_r"] + 9, -half, "6.5px")
    lab(p, x1, 4.05, "ben", "(\u03b4\u00b9\u2078O\u2030)", P["lab_r"], -half, "6.5px")
    lab(p, (x0 + x1) / 2.0, u_of(R["agelab"], R), "canvas", "Age in ka", 0, 0, "8.5px", color="#333333")

    # panel title
    p.add_layout(Label(x=x0, y=u_of(R["title"], R), y_range_name="canvas", x_offset=P["title_dx"],
                       text=P["name"], text_align="left", text_baseline="middle", text_font=FONT,
                       text_font_size="10.5px", text_color="#333333"))
    return p

figs = [build(P) for P in PANELS]
layout = column(row(*figs[:5]), row(*figs[5:]))
open("out.html", "w").write(file_html(layout, INLINE))
